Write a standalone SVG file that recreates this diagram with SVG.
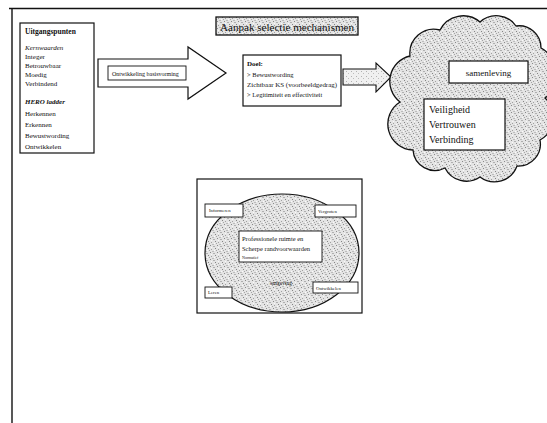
<svg xmlns="http://www.w3.org/2000/svg" width="547" height="423" viewBox="0 0 547 423">
  <defs>
    <!-- dithered grey used for the shaded shapes -->
    <pattern id="stipple" width="7" height="7" patternUnits="userSpaceOnUse">
      <rect width="7" height="7" fill="#e4e4e4"/>
      <rect x="0" y="0" width="1" height="1" fill="#8a8a8a"/>
      <rect x="3" y="1" width="2" height="1" fill="#b0b0b0"/>
      <rect x="5" y="3" width="1" height="1" fill="#858585"/>
      <rect x="1" y="4" width="1" height="1" fill="#a0a0a0"/>
      <rect x="2" y="6" width="2" height="1" fill="#bcbcbc"/>
      <rect x="6" y="5" width="1" height="1" fill="#a5a5a5"/>
      <rect x="4" y="5" width="1" height="1" fill="#fafafa"/>
      <rect x="1" y="2" width="1" height="1" fill="#f8f8f8"/>
    </pattern>
    <pattern id="stippleLight" width="5" height="5" patternUnits="userSpaceOnUse">
      <rect width="5" height="5" fill="#f0f0f0"/>
      <rect x="1" y="1" width="1" height="1" fill="#b0b0b0"/>
      <rect x="3" y="3" width="1" height="1" fill="#bcbcbc"/>
    </pattern>
  </defs>
  <style>
    .box { fill: #ffffff; stroke: #111; stroke-width: 1.2; }
    .thin { fill: #ffffff; stroke: #111; stroke-width: 0.9; }
    .shade { fill: url(#stipple); stroke: #111; stroke-width: 1.3; }
    .t { font-family: "Liberation Serif", serif; fill: #111; }
    .s6 { font-size: 7px; }
    .s7 { font-size: 7.5px; }
    .s5 { font-size: 4.8px; }
    .it { font-style: italic; }
    .b { font-weight: bold; }
  </style>

  <rect width="547" height="423" fill="#ffffff"/>

  <!-- page frame -->
  <g id="frame" stroke="#111" fill="none">
    <line x1="9" y1="8.5" x2="547" y2="8.5" stroke-width="1.3"/>
    <line x1="12" y1="8" x2="12" y2="423" stroke-width="1.4"/>
  </g>

  <!-- starting points list -->
  <g id="uitgangspunten">
    <rect class="box" x="20" y="23" width="74" height="130"/>
    <text class="t s7 b" x="25" y="34">Uitgangspunten</text>
    <text class="t s6 it" x="25" y="50">Kernwaarden</text>
    <text class="t s6" x="25" y="58.5">Integer</text>
    <text class="t s6" x="25" y="67.5">Betrouwbaar</text>
    <text class="t s6" x="25" y="76.5">Moedig</text>
    <text class="t s6" x="25" y="85.5">Verbindend</text>
    <text class="t s6 it b" x="25" y="104">HERO ladder</text>
    <text class="t s6" x="25" y="116">Herkennen</text>
    <text class="t s6" x="25" y="127">Erkennen</text>
    <text class="t s6" x="25" y="138">Bewustwording</text>
    <text class="t s6" x="25" y="149">Ontwikkelen</text>
  </g>

  <!-- title -->
  <g id="titel">
    <rect class="shade" x="216" y="17" width="142" height="18"/>
    <text class="t" x="220" y="30.5" font-size="11" textLength="134" lengthAdjust="spacingAndGlyphs">Aanpak selectie mechanismen</text>
  </g>

  <g id="connectors">
    <!-- large hollow arrow -->
    <polygon class="box" points="98,59 188,59 188,47 226,73 188,99 188,87 98,87"/>
    <!-- small shaded arrow -->
    <polygon points="343,69 376,69 376,63 391,77 376,92 376,85 343,85" fill="url(#stippleLight)" stroke="#111" stroke-width="1.1"/>
  </g>

  <g id="ontwikkeling">
    <rect class="thin" x="108" y="66" width="78" height="14"/>
    <text class="t" x="112" y="76" font-size="6">Ontwikkeling basisvorming</text>
  </g>

  <!-- goal -->
  <g id="doel">
    <rect class="box" x="243" y="55" width="98" height="51"/>
    <text class="t s6 b" x="247" y="66">Doel:</text>
    <text class="t" x="247" y="77" font-size="6.5">&gt; Bewustwording</text>
    <text class="t" x="247" y="87" font-size="6.5" textLength="90" lengthAdjust="spacingAndGlyphs">Zichtbaar KS (voorbeeldgedrag)</text>
    <text class="t" x="247" y="97" font-size="6.5">&gt; Legitimiteit en effectiviteit</text>
  </g>

  <!-- society cloud -->
  <g id="samenleving">
    <path class="shade" d="M400,102
      A26,26 0 0 1 410,56
      A24,24 0 0 1 440,30
      A26,26 0 0 1 480,22
      A24,24 0 0 1 516,26
      A22,22 0 0 1 541,48
      A30,30 0 0 1 545,98
      A26,26 0 0 1 540,140
      A22,22 0 0 1 517,166
      A24,24 0 0 1 480,177
      A24,24 0 0 1 445,168
      A22,22 0 0 1 413,150
      A26,26 0 0 1 400,102 Z"/>
    <rect class="box" x="449" y="61" width="79" height="22"/>
    <text class="t" x="488.5" y="75.5" font-size="9" text-anchor="middle">samenleving</text>
    <rect class="box" x="424" y="99" width="81" height="51"/>
    <text class="t" x="429" y="113" font-size="10">Veiligheid</text>
    <text class="t" x="429" y="128" font-size="10">Vertrouwen</text>
    <text class="t" x="429" y="143" font-size="10">Verbinding</text>
  </g>

  <!-- embedded slide -->
  <g id="dia">
    <rect class="box" x="197" y="179" width="165" height="134"/>
    <ellipse cx="282" cy="253" rx="77" ry="59" fill="url(#stipple)" stroke="#111" stroke-width="1.2"/>
    <rect class="thin" x="205" y="204" width="38" height="13"/>
    <text class="t s5" x="209" y="212">Informeren</text>
    <rect class="thin" x="315" y="205" width="41" height="12"/>
    <text class="t s5" x="318" y="213">Vergroten</text>
    <rect class="thin" x="239" y="231" width="83" height="31"/>
    <text class="t" x="242" y="241" font-size="6.5">Professionele ruimte en</text>
    <text class="t" x="242" y="251" font-size="6.5">Scherpe randvoorwaarden</text>
    <text class="t" x="242" y="259" font-size="4">Normatief</text>
    <text class="t" x="270" y="285" font-size="5.5">omgeving</text>
    <rect class="thin" x="205" y="287" width="27" height="11"/>
    <text class="t s5" x="208" y="294">Leren</text>
    <rect class="thin" x="313" y="282" width="45" height="11"/>
    <text class="t s5" x="316" y="289.5">Ontwikkelen</text>
  </g>
</svg>
